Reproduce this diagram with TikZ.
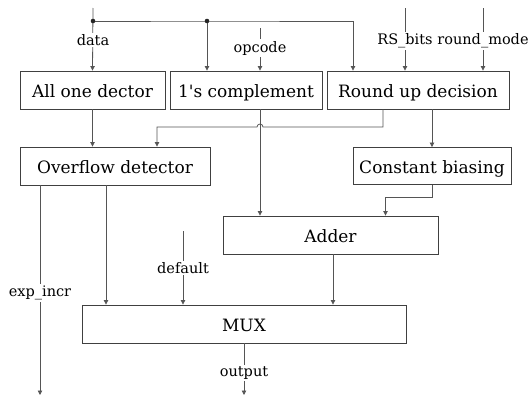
\documentclass[tikz,border=0pt]{standalone}
\usepackage{fontspec}
\setmainfont{DejaVu Serif}
\usetikzlibrary{arrows.meta}
\definecolor{wire}{HTML}{555555}
\definecolor{edge}{HTML}{404040}
\begin{document}
\begin{tikzpicture}[x=1pt,y=-1pt,
  block/.style={draw=edge,line width=0.9pt,minimum height=38pt,inner sep=0pt,
    text height=14pt,text depth=0pt,
    font=\fontsize{17}{20}\selectfont,text=black},
  sig/.style={fill=white,inner sep=1.5pt,font=\fontsize{14.5}{17}\selectfont,text=black},
  arr/.style={draw=wire,line width=0.8pt,-{Triangle[length=4.5pt,width=4.5pt]}}]
\useasboundingbox (0,0) rectangle (531,399);

% blocks
\node[block,minimum width=145pt] (aod) at (92.5,90) {All one dector};
\node[block,minimum width=152pt] (cpl) at (246,90) {1\textquotesingle s complement};
\node[block,minimum width=182pt] (rud) at (418,90) {Round up decision};
\node[block,minimum width=190pt] (ovf) at (115,166) {Overflow detector};
\node[block,minimum width=158pt,minimum height=37pt] (cb) at (432,166) {Constant biasing};
\node[block,minimum width=215pt] (add) at (330.5,235) {Adder};
\node[block,minimum width=324pt] (mux) at (244,324) {MUX};

% free ends of the external signals
\coordinate (dataTop) at (93,8);
\coordinate (opTop) at (260,28);
\coordinate (rsTop) at (405,8);
\coordinate (rmTop) at (483,8);
\coordinate (defTop) at (183,231);
\coordinate (expEnd) at (40,395);
\coordinate (outEnd) at (244,395);
\coordinate (j1) at (93,21);
\coordinate (j2) at (207,21);
\coordinate (hopR) at (263,127);

% data bus and its branches
\draw[arr] (dataTop) -- (aod.north);
\draw[arr] (j1) -- (j2) -| ([xshift=-65pt]rud.north);
\draw[arr] (j2) -- (j2 |- cpl.north);
\fill[black!85] (j1) circle (2.3pt) (j2) circle (2.3pt);

% other inputs
\draw[arr] (opTop) -- (opTop |- cpl.north);
\draw[arr] (rsTop) -- (rsTop |- rud.north);
\draw[arr] (rmTop) -- (rmTop |- rud.north);

% internal connections
\draw[arr] (aod.south) -- (aod.south |- ovf.north);
\draw[arr] ([xshift=14pt]cpl.south) -- ([xshift=14pt]cpl.south |- add.north);
\draw[arr] ([xshift=-35pt]rud.south) |- (hopR)
  arc[start angle=0,end angle=180,radius=3pt] -| ([xshift=42pt]ovf.north);
\draw[arr] (cb.north |- rud.south) -- (cb.north);
\draw[arr] (cb.south) -- ++(0,12) -| ([xshift=55pt]add.north);
\draw[arr] ([xshift=2.5pt]add.south) -- ([xshift=2.5pt]add.south |- mux.north);
\draw[arr] ([xshift=-9pt]ovf.south) -- ([xshift=-9pt]ovf.south |- mux.north);
\draw[arr] (defTop) -- (defTop |- mux.north);
\draw[arr] ([xshift=-75pt]ovf.south) -- (expEnd);
\draw[arr] (mux.south) -- (outEnd);

% signal labels
\node[sig] (ldata) at (93,40) {data};
\node[sig] (lop) at (260,48) {opcode};
\node[sig] (lrs) at (405,41) {RS\_bits};
\node[sig] (lrm) at (483,41) {round\_mode};
\node[sig] (lexp) at (40,293) {exp\_incr};
\node[sig] (ldef) at (183,268) {default};
\node[sig] (lout) at (244,373) {output};
\end{tikzpicture}
\end{document}
